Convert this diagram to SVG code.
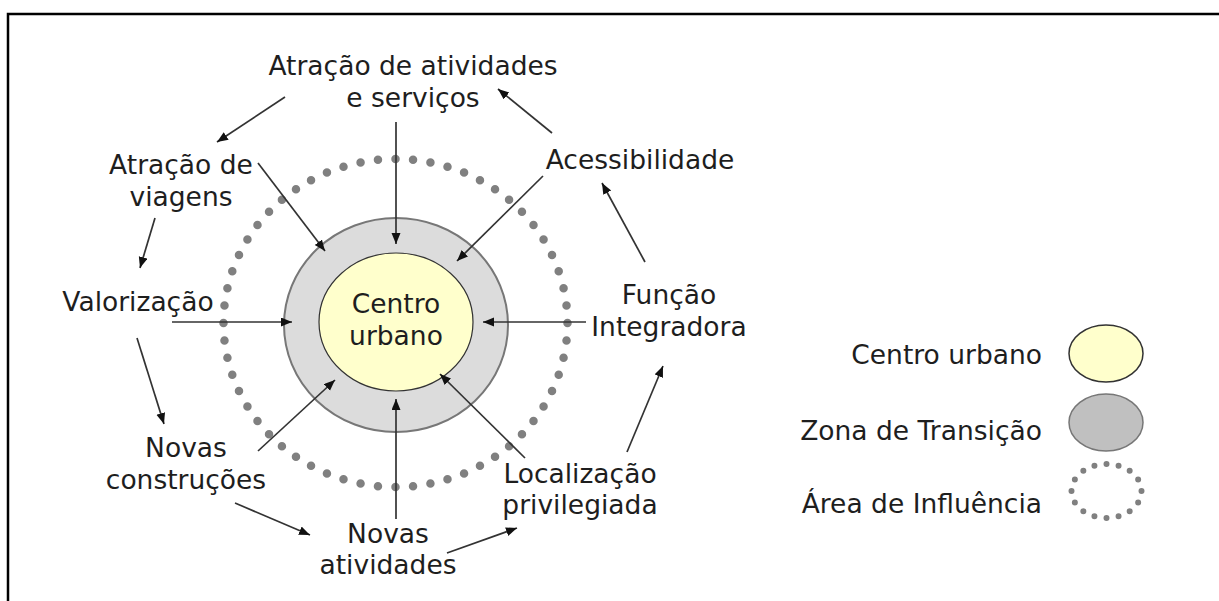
<svg xmlns="http://www.w3.org/2000/svg" width="1219" height="601" viewBox="0 0 1219 601">
<style>
text{font-family:"DejaVu Sans",Verdana,sans-serif;font-size:26.5px;fill:#1e1e1e}
.c{text-anchor:middle}
.r{text-anchor:end}
.a{stroke:#333;stroke-width:1.7;fill:none;marker-end:url(#ah)}
</style>
<defs>
<marker id="ah" markerUnits="userSpaceOnUse" markerWidth="12" markerHeight="10" refX="11" refY="4.5" orient="auto">
<path d="M0,0 L11,4.5 L0,9 z" fill="#111"/>
</marker>
</defs>
<rect x="8" y="14" width="1240" height="620" fill="none" stroke="#000" stroke-width="2.5"/>
<g id="area-influencia">
<ellipse cx="395.5" cy="323" rx="172" ry="164" fill="none" stroke="#808080" stroke-width="8.5" stroke-linecap="round" stroke-dasharray="0 1" pathLength="60"/>
</g>
<g id="zona-transicao">
<ellipse cx="396" cy="325" rx="112" ry="107" fill="#dcdcdc" stroke="#777" stroke-width="2"/>
</g>
<g id="centro-urbano">
<ellipse cx="396" cy="322" rx="77" ry="69" fill="#ffffcc" stroke="#333" stroke-width="1.2"/>
<text class="c" x="396" y="313">Centro</text>
<text class="c" x="396" y="345">urbano</text>
</g>
<g id="atracao-atividades">
<text class="c" x="413" y="75">Atração de atividades</text>
<text class="c" x="413" y="107">e serviços</text>
</g>
<g id="atracao-viagens">
<text class="c" x="181" y="174">Atração de</text>
<text class="c" x="181" y="206">viagens</text>
</g>
<g id="acessibilidade">
<text class="c" x="640" y="169">Acessibilidade</text>
</g>
<g id="valorizacao">
<text class="c" x="138" y="311">Valorização</text>
</g>
<g id="funcao-integradora">
<text class="c" x="669" y="304">Função</text>
<text class="c" x="669" y="336">Integradora</text>
</g>
<g id="novas-construcoes">
<text class="c" x="186" y="457">Novas</text>
<text class="c" x="186" y="489">construções</text>
</g>
<g id="novas-atividades">
<text class="c" x="388" y="543">Novas</text>
<text class="c" x="388" y="574">atividades</text>
</g>
<g id="localizacao">
<text class="c" x="580" y="483">Localização</text>
<text class="c" x="580" y="514">privilegiada</text>
</g>
<g id="connectors">
<line class="a" x1="396" y1="122" x2="396" y2="244"/>
<line class="a" x1="258" y1="163" x2="325" y2="251"/>
<line class="a" x1="543" y1="176" x2="457" y2="261"/>
<line class="a" x1="172" y1="322" x2="292" y2="322"/>
<line class="a" x1="586" y1="322" x2="483" y2="322"/>
<line class="a" x1="258" y1="451" x2="335" y2="380"/>
<line class="a" x1="396" y1="519" x2="396" y2="399"/>
<line class="a" x1="525" y1="458" x2="440" y2="374"/>
<line class="a" x1="285" y1="97" x2="217" y2="142"/>
<line class="a" x1="552" y1="133" x2="498" y2="89"/>
<line class="a" x1="155" y1="218" x2="140" y2="268"/>
<line class="a" x1="137" y1="338" x2="164" y2="424"/>
<line class="a" x1="235" y1="503" x2="310" y2="535"/>
<line class="a" x1="447" y1="553" x2="517" y2="528"/>
<line class="a" x1="627" y1="452" x2="663" y2="366"/>
<line class="a" x1="645" y1="262" x2="602" y2="183"/>
</g>
<g id="legenda">
<text class="r" x="1042" y="364">Centro urbano</text>
<ellipse cx="1106" cy="353.5" rx="37" ry="28.5" fill="#ffffcc" stroke="#333" stroke-width="1.5"/>
<text class="r" x="1042" y="440">Zona de Transição</text>
<ellipse cx="1106" cy="422.5" rx="37" ry="28.5" fill="#c0c0c0" stroke="#777" stroke-width="1.5"/>
<text class="r" x="1042" y="513">Área de Influência</text>
<ellipse cx="1106.5" cy="491" rx="35" ry="27" fill="none" stroke="#808080" stroke-width="6" stroke-linecap="round" stroke-dasharray="0 1" pathLength="16"/>
</g>
</svg>
